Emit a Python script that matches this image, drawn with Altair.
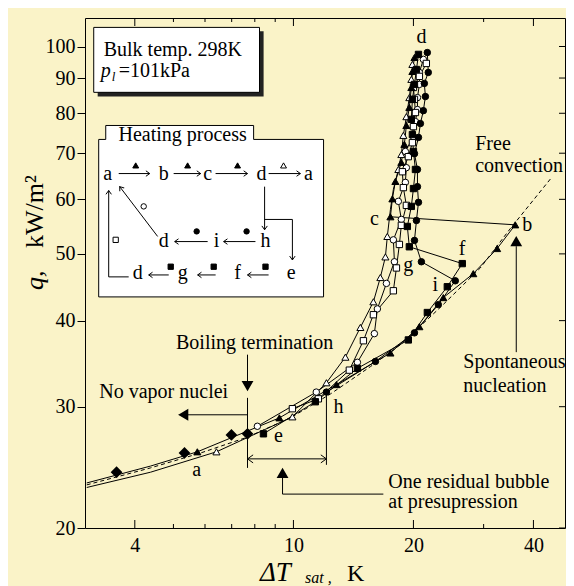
import altair as alt
import pandas as pd

FONT = "Liberation Serif"
BG = "#FAF3C8"

# ---------------- axes ----------------
x_labels = [4, 10, 20, 40]
x_minor = [5, 6, 7, 8, 9, 30]
y_labels = [20, 30, 40, 50, 60, 70, 80, 90, 100]

# ---------------- experimental series: dTsat [K], q [kW/m2] ----------------
# filled triangle: heating a -> b (convection), b -> c jump, c -> d boiling
tri_f_x = [3.03, 4.38, 5.74, 9.22, 12.82, 17.51, 20.70, 23.77, 28.26, 32.43, 36.01,
           17.51, 17.71, 18.02, 18.65, 18.98, 19.20, 19.53, 19.76, 19.88, 20.12]
tri_f_q = [23.25, 24.6, 25.8, 28.9, 32.3, 35.9, 39.2, 43.2, 46.8, 50.9, 55.1,
           56.6, 60.1, 63.7, 67.9, 72.1, 76.8, 81.6, 87.2, 92.0, 96.4]
tri_f_m = [0, 0] + [1] * 19

# open triangle: cooling d -> a
tri_o_x = [19.88, 19.76, 19.53, 19.20, 18.87, 18.65, 18.33, 17.81, 17.51, 17.20,
           17.01, 16.52, 15.87, 14.72, 13.50, 12.10, 9.94, 6.41, 4.38, 3.03]
tri_o_q = [94.2, 89.6, 84.3, 79.1, 74.3, 69.7, 66.3, 62.0, 58.0, 53.0,
           49.5, 46.2, 42.6, 39.1, 35.4, 32.5, 29.0, 25.8, 24.1, 22.9]
tri_o_m = [1, 1, 1, 1, 1, 1, 1, 0, 0, 1, 1, 1, 1, 1, 1, 1, 1, 1, 0, 0]

# filled circle: heating h -> i -> d
circ_f_x = [12.10, 16.06, 20.12, 23.09, 25.47, 20.94, 20.12, 20.35, 20.59, 20.47,
            20.47, 20.12, 20.59, 20.82, 21.18, 21.43, 21.30, 21.79, 21.67]
circ_f_q = [31.5, 34.9, 38.4, 42.2, 45.7, 48.7, 52.3, 55.9, 59.4, 62.6,
            66.3, 69.9, 73.8, 77.3, 80.7, 84.6, 88.4, 91.7, 98.0]
circ_f_m = [1] * 19

# open circle: cooling d -> a
circ_o_x = [21.18, 20.70, 20.70, 20.47, 20.47, 20.23, 20.00, 19.09, 19.20, 19.09,
            18.33, 18.65, 17.81, 17.92, 17.11, 16.24, 15.96, 14.47, 11.41, 8.12]
circ_o_q = [95.8, 91.7, 88.1, 84.3, 81.0, 77.8, 74.0, 70.4, 66.7, 63.5,
            59.6, 56.1, 52.4, 48.7, 45.3, 41.6, 38.3, 34.8, 31.5, 28.1]
circ_o_m = [1] * 20

# filled square: heating e -> f -> g -> d
sq_f_x = [8.41, 11.35, 14.47, 19.42, 21.67, 24.32, 26.52, 19.53, 19.31, 19.76,
          20.00, 20.23, 20.00, 19.88, 19.76, 19.88, 20.12, 20.35, 20.59]
sq_f_q = [27.4, 30.5, 34.1, 37.5, 41.1, 44.8, 48.4, 51.2, 54.8, 58.6,
          62.2, 66.3, 70.4, 74.5, 78.4, 83.8, 88.1, 92.6, 97.4]
sq_f_m = [1] * 19

# open square: cooling d -> a
sq_o_x = [21.55, 20.70, 20.00, 20.12, 20.23, 20.00, 19.88, 19.42, 18.76, 18.87,
          19.20, 18.65, 18.44, 18.13, 17.81, 15.87, 14.98, 13.81, 11.55, 9.94]
sq_o_q = [94.5, 90.5, 87.2, 83.8, 80.2, 76.5, 72.5, 69.2, 65.8, 62.4,
          58.8, 55.0, 51.6, 47.7, 44.2, 40.8, 37.4, 33.9, 30.8, 29.8]
sq_o_m = [1] * 20

# filled diamond: no vapor nuclei
dia_x = [3.60, 5.33, 6.99, 7.67]
dia_q = [24.1, 25.7, 27.3, 27.4]

# free convection (dashed)
fc_x = [3.03, 4.38, 5.85, 7.67, 9.83, 12.38, 15.60, 18.54, 23.35, 29.43, 34.99, 44.58]
fc_q = [23.1, 24.45, 25.7, 27.1, 28.9, 31.3, 34.3, 36.9, 41.8, 47.7, 54.4, 64.7]

# ---------------- annotations (data coordinates) ----------------
lab_text = ["d", "c", "b", "f", "g", "i", "h", "e", "a"]
lab_x = [20.94, 15.96, 38.6, 26.5, 19.42, 22.7, 12.97, 9.17, 5.72]
lab_q = [103.1, 56.1, 55.0, 50.9, 48.2, 45.1, 30.0, 27.2, 24.3]

ctext = ["Boiling termination", "No vapor nuclei"]
ctext_x = [7.99, 4.727]
ctext_q = [37.1, 31.5]

ltext = ["Free", "convection", "Spontaneous", "nucleation",
         "One residual bubble", "at presupression"]
ltext_x = [28.58, 28.58, 26.67, 26.67, 17.30, 17.30]
ltext_q = [72.2, 67.1, 34.8, 32.2, 23.3, 21.8]

seg_x1 = [7.67, 7.67, 7.67, 7.67, 12.10, 16.81, 9.39, 36.22]
seg_q1 = [35.7, 30.9, 29.2, 25.2, 31.5, 22.4, 22.4, 36.0]
seg_x2 = [7.67, 7.67, 5.35, 12.10, 12.10, 9.39, 9.39, 36.22]
seg_q2 = [32.6, 24.45, 29.2, 25.2, 24.7, 22.4, 23.7, 51.3]

head_x = [7.67, 5.305, 9.39, 36.22]
head_q = [32.2, 29.2, 24.0, 52.1]
head_shape = ["triangle-down", "triangle-left", "triangle-up", "triangle-up"]

big_chev_x = [7.67, 12.10]
big_chev_q = [25.2, 25.2]
big_chev_a = [180, 0]

# boxes
box_x1 = [3.155, 3.247]
box_x2 = [8.22, 11.90]
box_q1 = [85.8, 43.3]
box_q2 = [106.6, 73.3]
shadow = (3.228, 8.417, 84.6, 105.2)
title_cover = (3.382, 7.945, 70.4, 76.8)

# inset: heating process diagram
in_text = ["a", "b", "c", "d", "a", "d", "i", "h", "d", "g", "f", "e"]
in_x = [3.421, 4.727, 6.093, 8.32, 10.91, 4.727, 6.41, 8.51, 4.067, 5.273, 7.242, 9.87]
in_q = [64.1] * 5 + [51.2] * 3 + [45.9] * 4

in_seg_x1 = [3.645, 5.006, 6.378, 8.664, 5.036, 6.681, 4.334, 5.75, 7.67,
             3.861, 3.44, 4.564, 8.466, 8.466, 9.94, 3.382, 3.382, 7.945]
in_seg_q1 = [65.4, 65.4, 65.4, 65.4, 52.1, 52.1, 46.6, 46.6, 46.6,
             46.3, 46.3, 53.0, 62.6, 56.1, 56.1, 76.8, 76.8, 76.8]
in_seg_x2 = [4.360, 5.851, 7.67, 10.41, 6.093, 8.03, 4.866, 6.38, 8.664,
             3.44, 3.44, 3.666, 8.466, 9.94, 9.94, 7.945, 3.382, 7.945]
in_seg_q2 = [65.4, 65.4, 65.4, 65.4, 52.1, 52.1, 46.6, 46.6, 46.6,
             46.3, 61.8, 62.6, 54.2, 56.1, 49.0, 76.8, 73.3, 73.3]

chev_x = [4.360, 5.851, 7.67, 10.41, 5.036, 6.681, 4.334, 5.75, 7.67,
          3.44, 3.666, 8.466, 9.94]
chev_q = [65.4, 65.4, 65.4, 65.4, 52.1, 52.1, 46.6, 46.6, 46.6,
          61.8, 62.6, 54.2, 49.0]
chev_a = [0, 0, 0, 0, 180, 180, 180, 180, 180, 270, 233, 90, 90]

in_mk_x = [4.021, 5.427, 7.242, 9.444, 5.718, 7.629, 4.922, 6.309, 8.51, 3.582, 4.211]
in_mk_q = [67.2, 67.2, 67.2, 67.2, 53.9, 53.9, 47.9, 47.9, 47.9, 52.4, 58.6]
in_mk_s = ["tri_f", "tri_f", "tri_f", "tri_o", "circ_f", "circ_f",
           "sq_f", "sq_f", "sq_f", "sq_o", "circ_o"]

# ---------------- scales / encodings ----------------
XS = alt.Scale(type="log", domain=[3.0, 48.0], nice=False)
YS = alt.Scale(type="log", domain=[20, 110], nice=False)
XAX = alt.Axis(values=x_labels, format="d", ticks=False, tickSize=0, domain=False,
               grid=False, labelPadding=7, title=None, labelFont=FONT,
               labelFontSize=20, labelColor="black", labelOverlap=False)
YAX = alt.Axis(values=y_labels, format="d", tickSize=8, tickColor="black",
               tickWidth=1, domain=False, grid=False, labelPadding=2, title=None,
               labelFont=FONT, labelFontSize=20, labelColor="black",
               labelOverlap=False)


def X(f="x"):
    return alt.X(f"{f}:Q", scale=XS, axis=XAX)


def Y(f="q"):
    return alt.Y(f"{f}:Q", scale=YS, axis=YAX)


series = {
    "tri_f": (tri_f_x, tri_f_q, tri_f_m),
    "tri_o": (tri_o_x, tri_o_q, tri_o_m),
    "circ_f": (circ_f_x, circ_f_q, circ_f_m),
    "circ_o": (circ_o_x, circ_o_q, circ_o_m),
    "sq_f": (sq_f_x, sq_f_q, sq_f_m),
    "sq_o": (sq_o_x, sq_o_q, sq_o_m),
}
rows = []
for name, (xs, qs, ms) in series.items():
    for i, (xv, qv, mv) in enumerate(zip(xs, qs, ms)):
        rows.append(dict(s=name, i=i, x=xv, q=qv, m=mv))
df = pd.DataFrame(rows)

style = {
    "tri_o": ("triangle-up", "white", 50),
    "circ_o": ("circle", "white", 42),
    "sq_o": ("square", "white", 40),
    "tri_f": ("triangle-up", "black", 50),
    "sq_f": ("square", "black", 40),
    "circ_f": ("circle", "black", 42),
}

layers = []

# free convection dashed
layers.append(
    alt.Chart(pd.DataFrame({"x": fc_x, "q": fc_q, "i": range(len(fc_x))}))
    .mark_line(color="black", strokeWidth=1, strokeDash=[4, 3])
    .encode(x=X(), y=Y(), order="i:Q")
)
# series lines
layers.append(
    alt.Chart(df).mark_line(color="black", strokeWidth=1)
    .encode(x=X(), y=Y(), detail="s:N", order="i:Q")
)
# markers
for name in ["tri_o", "circ_o", "sq_o", "tri_f", "sq_f", "circ_f"]:
    shp, fill, size = style[name]
    sub = df[(df.s == name) & (df.m == 1)]
    layers.append(
        alt.Chart(sub).mark_point(shape=shp, filled=True, fill=fill, stroke="black",
                                  strokeWidth=1, size=size, opacity=1)
        .encode(x=X(), y=Y())
    )
layers.append(
    alt.Chart(pd.DataFrame({"x": dia_x, "q": dia_q}))
    .mark_point(shape="diamond", filled=True, fill="black", stroke="black",
                size=80, opacity=1)
    .encode(x=X(), y=Y())
)

# main annotation segments
seg_df = pd.DataFrame({"x": seg_x1, "q": seg_q1, "x2": seg_x2, "q2": seg_q2})
layers.append(
    alt.Chart(seg_df).mark_rule(color="black", strokeWidth=1)
    .encode(x=X(), y=Y(), x2="x2:Q", y2="q2:Q")
)
layers.append(
    alt.Chart(pd.DataFrame({"x": head_x, "q": head_q, "sh": head_shape}))
    .mark_point(filled=True, fill="black", stroke="black", size=70, opacity=1)
    .encode(x=X(), y=Y(), shape=alt.Shape("sh:N", scale=None))
)
CHEV = "M -1.4 -1 L 0 0 L -1.4 1"
layers.append(
    alt.Chart(pd.DataFrame({"x": big_chev_x, "q": big_chev_q, "a": big_chev_a}))
    .mark_point(shape=CHEV, filled=False, stroke="black", strokeWidth=1, size=64,
                opacity=1)
    .encode(x=X(), y=Y(), angle=alt.Angle("a:Q", scale=None))
)
# main texts
layers.append(
    alt.Chart(pd.DataFrame({"x": lab_x, "q": lab_q, "t": lab_text}))
    .mark_text(font=FONT, fontSize=20, color="black", align="center", baseline="middle")
    .encode(x=X(), y=Y(), text="t:N")
)
layers.append(
    alt.Chart(pd.DataFrame({"x": ctext_x, "q": ctext_q, "t": ctext}))
    .mark_text(font=FONT, fontSize=20, color="black", align="center", baseline="middle")
    .encode(x=X(), y=Y(), text="t:N")
)
layers.append(
    alt.Chart(pd.DataFrame({"x": ltext_x, "q": ltext_q, "t": ltext}))
    .mark_text(font=FONT, fontSize=20, color="black", align="left", baseline="middle")
    .encode(x=X(), y=Y(), text="t:N")
)

# boxes
layers.append(
    alt.Chart(pd.DataFrame({"x": [shadow[0]], "x2": [shadow[1]], "q": [shadow[2]], "q2": [shadow[3]]}))
    .mark_rect(fill="#222222", stroke=None)
    .encode(x=X(), x2="x2:Q", y=Y(), y2="q2:Q")
)
layers.append(
    alt.Chart(pd.DataFrame({"x": box_x1, "x2": box_x2, "q": box_q1, "q2": box_q2}))
    .mark_rect(fill="white", stroke="black", strokeWidth=1)
    .encode(x=X(), x2="x2:Q", y=Y(), y2="q2:Q")
)
layers.append(
    alt.Chart(pd.DataFrame({"x": [title_cover[0]], "x2": [title_cover[1]],
                            "q": [title_cover[2]], "q2": [title_cover[3]]}))
    .mark_rect(fill="white")
    .encode(x=X(), x2="x2:Q", y=Y(), y2="q2:Q")
)
# bulk box texts
layers.append(
    alt.Chart(pd.DataFrame({"x": [3.342, 3.645], "q": [99.0, 92.0],
                            "t": ["Bulk temp. 298K", "=101kPa"]}))
    .mark_text(font=FONT, fontSize=20, color="black", align="left", baseline="middle")
    .encode(x=X(), y=Y(), text="t:N")
)
layers.append(
    alt.Chart(pd.DataFrame({"x": [3.285], "q": [92.0], "t": ["p"]}))
    .mark_text(font=FONT, fontSize=20, fontStyle="italic", color="black",
               align="left", baseline="middle")
    .encode(x=X(), y=Y(), text="t:N")
)
layers.append(
    alt.Chart(pd.DataFrame({"x": [3.50], "q": [90.3], "t": ["l"]}))
    .mark_text(font=FONT, fontSize=13, fontStyle="italic", color="black",
               align="left", baseline="middle")
    .encode(x=X(), y=Y(), text="t:N")
)
# heating process inset
layers.append(
    alt.Chart(pd.DataFrame({"x": [5.273], "q": [74.3], "t": ["Heating process"]}))
    .mark_text(font=FONT, fontSize=20, color="black", align="center", baseline="middle")
    .encode(x=X(), y=Y(), text="t:N")
)
layers.append(
    alt.Chart(pd.DataFrame({"x": in_seg_x1, "q": in_seg_q1, "x2": in_seg_x2, "q2": in_seg_q2}))
    .mark_rule(color="black", strokeWidth=1)
    .encode(x=X(), y=Y(), x2="x2:Q", y2="q2:Q")
)
layers.append(
    alt.Chart(pd.DataFrame({"x": chev_x, "q": chev_q, "a": chev_a}))
    .mark_point(shape=CHEV, filled=False, stroke="black", strokeWidth=1, size=30,
                opacity=1)
    .encode(x=X(), y=Y(), angle=alt.Angle("a:Q", scale=None))
)
in_mk = pd.DataFrame({"x": in_mk_x, "q": in_mk_q, "s": in_mk_s})
for name in ["tri_f", "tri_o", "circ_f", "circ_o", "sq_f", "sq_o"]:
    shp, fill, size = style[name]
    layers.append(
        alt.Chart(in_mk[in_mk.s == name])
        .mark_point(shape=shp, filled=True, fill=fill, stroke="black",
                    strokeWidth=1, size=size * 0.7, opacity=1)
        .encode(x=X(), y=Y())
    )
layers.append(
    alt.Chart(pd.DataFrame({"x": in_x, "q": in_q, "t": in_text}))
    .mark_text(font=FONT, fontSize=20, color="black", align="center", baseline="alphabetic")
    .encode(x=X(), y=Y(), text="t:N")
)

# inward ticks (bottom / top / right)
H = 510
W = 480
for lab, ln in [("maj", 8), ("min", 4)]:
    vals = x_labels if lab == "maj" else x_minor
    d = pd.DataFrame({"x": vals})
    layers.append(alt.Chart(d).mark_rule(color="black", strokeWidth=1)
                  .encode(x=X(), y=alt.value(H), y2=alt.value(H - ln)))
    layers.append(alt.Chart(d).mark_rule(color="black", strokeWidth=1)
                  .encode(x=X(), y=alt.value(0), y2=alt.value(ln)))
layers.append(
    alt.Chart(pd.DataFrame({"q": y_labels})).mark_rule(color="black", strokeWidth=1)
    .encode(y=Y(), x=alt.value(W), x2=alt.value(W - 6))
)

# axis titles
def ptext(t, x, y, size, style="normal", angle=0):
    return (alt.Chart(pd.DataFrame({"t": [t]}))
            .mark_text(font=FONT, fontSize=size, fontStyle=style, color="black",
                       align="left", baseline="alphabetic", angle=angle)
            .encode(x=alt.value(x), y=alt.value(y), text="t:N"))

layers.append(ptext("ΔT", 175, 563, 27, "italic"))
layers.append(ptext("sat ,", 220, 565, 16, "italic"))
layers.append(ptext("K", 262, 563, 24))
layers.append(ptext("q,", -42, 272, 26, "italic", 270))
layers.append(ptext("kW/m²", -42, 230, 26, "normal", 270))

chart = (
    alt.layer(*layers)
    .properties(width=W, height=H,
                autosize=alt.AutoSizeParams(type="none"),
                padding={"left": 77, "top": 10, "right": 1, "bottom": 58},
                background=BG)
    .configure_view(stroke="black", strokeWidth=1)
)

chart.save("out.html", embed_options={"renderer": "svg", "actions": False})
